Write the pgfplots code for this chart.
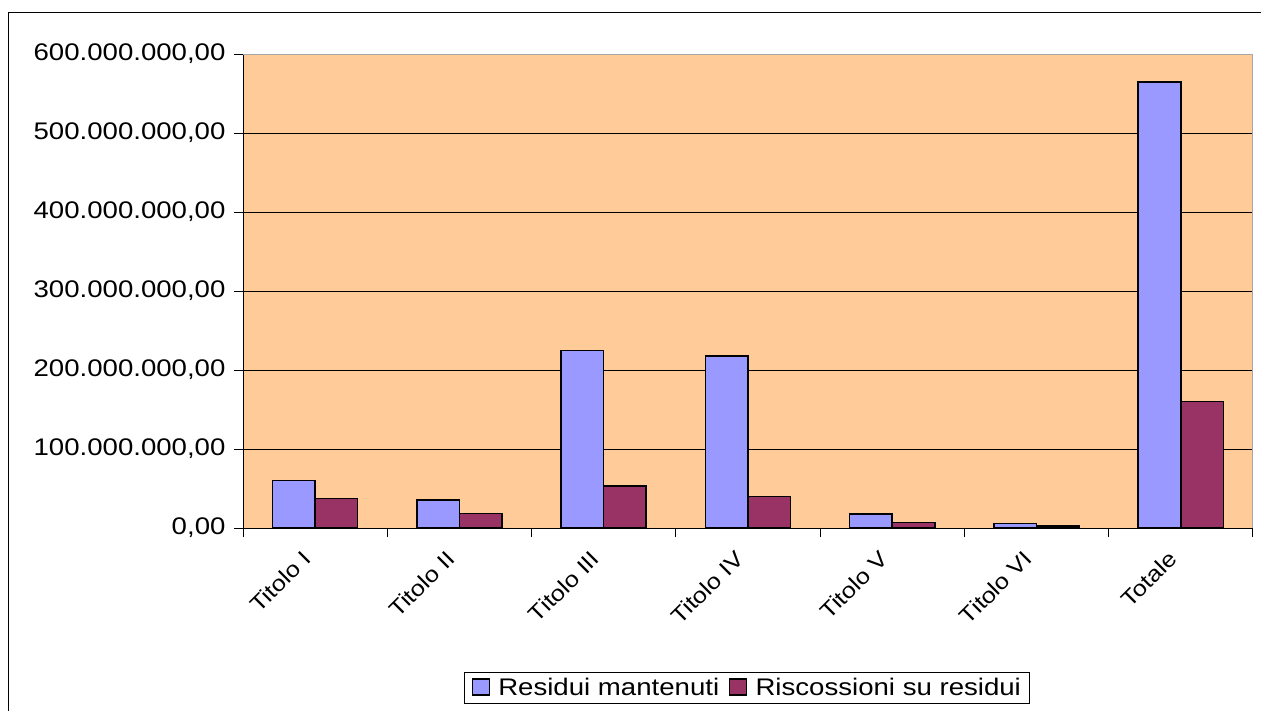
\documentclass[border=0pt]{standalone}
\usepackage{pgfplots}
\pgfplotsset{compat=1.18}
\usepackage{fontspec}
\setmainfont{Liberation Sans}
\newfontfamily\chartfont{Liberation Sans}[FakeStretch=1.15]
\definecolor{peach}{HTML}{FFCC99}
\definecolor{barblue}{HTML}{9999FF}
\definecolor{barred}{HTML}{993366}
\begin{document}
\begin{tikzpicture}[x=1pt,y=1pt]
\useasboundingbox (0,0) rectangle (1261,-711);
\draw[line width=1.3pt] (8.7,-720) -- (8.7,-12.7) -- (1270,-12.7);
\begin{axis}[
  at={(243pt,-528pt)}, anchor=south west,
  width=1010pt, height=474pt, scale only axis,
  xmin=-0.5, xmax=6.5, ymin=0, ymax=600000000,
  scaled y ticks=false,
  axis background/.style={fill=peach},
  axis x line*=bottom, axis y line*=left,
  axis line style={black, line width=1pt, -},
  ytick={0,100000000,200000000,300000000,400000000,500000000,600000000},
  yticklabels={{0,00},{100.000.000,00},{200.000.000,00},{300.000.000,00},{400.000.000,00},{500.000.000,00},{600.000.000,00}},
  ymajorgrids, grid style={black, line width=1pt},
  xtick={0,1,2,3,4,5,6},
  xticklabels={Titolo I,Titolo II,Titolo III,Titolo IV,Titolo V,Titolo VI,Totale},
  minor xtick={-0.5,0.5,1.5,2.5,3.5,4.5,5.5,6.5},
  tick align=outside, major tick length=9pt, minor tick length=9pt,
  major x tick style={draw=none},
  tick style={black, line width=1pt},
  xticklabel style={font=\chartfont\fontsize{22}{26}\selectfont, xshift=-14pt, yshift=-7pt, rotate=45, anchor=north east},
  yticklabel style={font=\chartfont\fontsize{24}{28}\selectfont, xshift=-5pt},
  ybar, bar width=0.295,
  legend columns=2,
  legend style={at={(0.4995,-0.3376)}, anchor=center, draw=black, line width=1pt,
    font=\chartfont\fontsize{24}{28}\selectfont, inner xsep=7pt, inner ysep=4pt,
    /tikz/every even column/.append style={column sep=8pt}},
  legend image code/.code={\draw[#1, line width=1.2pt] (0pt,-7pt) rectangle (17pt,9pt); \path (23pt,0pt);},
]
\addplot[fill=barblue, draw=black, line width=1.5pt, bar shift=-0.1475] coordinates {
  (0,60300000) (1,35400000) (2,224800000) (3,218000000) (4,17700000) (5,5400000) (6,564600000)};
\addplot[fill=barred, draw=black, line width=1.5pt, bar shift=0.1475] coordinates {
  (0,37500000) (1,18100000) (2,53200000) (3,40000000) (4,7100000) (5,2500000) (6,159900000)};
\legend{Residui mantenuti, Riscossioni su residui}
\draw[gray!70, line width=1.5pt] (rel axis cs:0,1) -- (rel axis cs:1,1) -- (rel axis cs:1,0);
\end{axis}
\end{tikzpicture}
\end{document}
